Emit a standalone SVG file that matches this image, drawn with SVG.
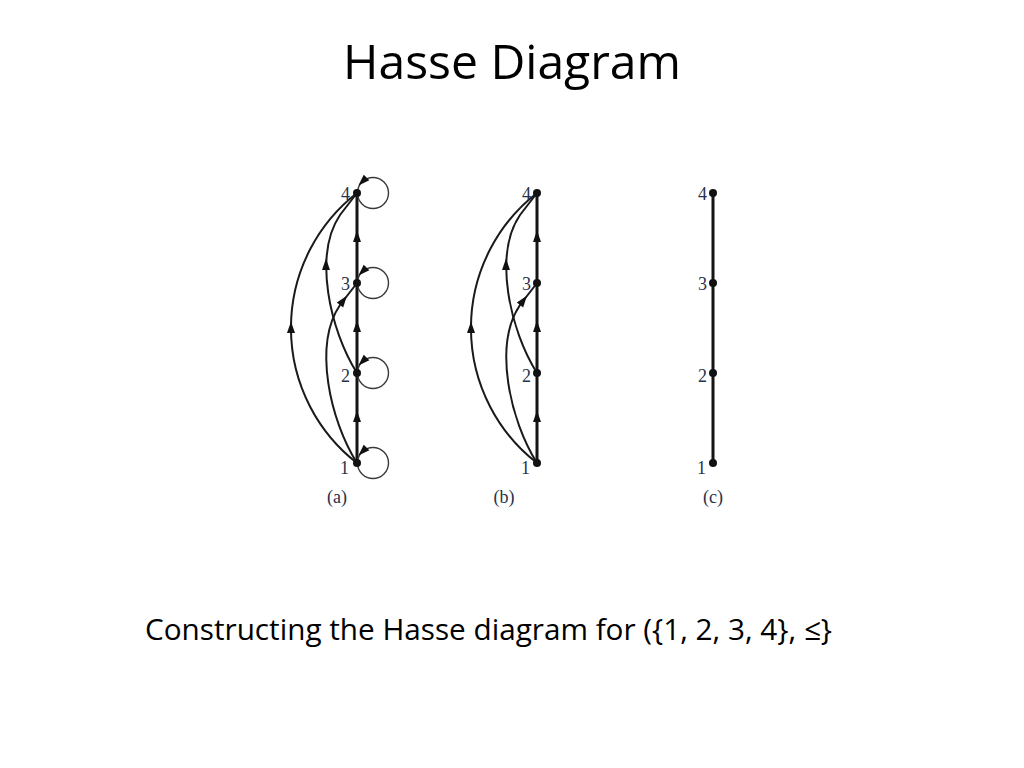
<svg xmlns="http://www.w3.org/2000/svg" xmlns:xlink="http://www.w3.org/1999/xlink" width="1024" height="768" viewBox="0 0 1024 768">
<style>
.title{font-family:"Open Sans","Liberation Sans",sans-serif;font-size:48px;fill:#000;}
.cap{font-family:"Open Sans","Liberation Sans",sans-serif;font-size:30px;fill:#000;}
.lbl{font-family:"Liberation Serif","DejaVu Serif",serif;font-size:18px;fill:#28324a;text-anchor:end;}
.sub{font-family:"Liberation Serif","DejaVu Serif",serif;font-size:18px;fill:#28324a;text-anchor:middle;}
.vert{stroke:#151515;stroke-width:3;fill:none;}
.curve{stroke:#1a1a1a;stroke-width:2;fill:none;}
.loop{stroke:#3a3a3a;stroke-width:1.4;fill:none;}
.node{fill:#111;}
.arr{fill:#111;}
</style>
<defs>
<polygon id="arr" class="arr" points="0,-6.5 4,5 -4,5"/>
<g id="curves">
<path class="curve" d="M357,463 A171,171 0 0 1 357,193"/>
<path class="curve" d="M357,463 C330,420 313,345 340,305 L357,283"/>
<path class="curve" d="M357,373 C330,330 313,255 340,215 L357,193"/>
<use xlink:href="#arr" transform="translate(291,328)"/>
<use xlink:href="#arr" transform="translate(343,301) rotate(37)"/>
<use xlink:href="#arr" transform="translate(326,265)"/>
<line class="vert" x1="357" y1="463" x2="357" y2="193"/>
<use xlink:href="#arr" transform="translate(357,237)"/>
<use xlink:href="#arr" transform="translate(357,327)"/>
<use xlink:href="#arr" transform="translate(357,417)"/>
</g>
</defs>

<text class="title" x="343" y="79" textLength="338" lengthAdjust="spacingAndGlyphs">Hasse Diagram</text>

<g id="connectors">
<g id="edges-a">
<use xlink:href="#curves"/>
<circle class="loop" cx="373" cy="193" r="15.5"/>
<circle class="loop" cx="373" cy="283" r="15.5"/>
<circle class="loop" cx="373" cy="373" r="15.5"/>
<circle class="loop" cx="373" cy="463" r="15.5"/>
<use xlink:href="#arr" transform="translate(363,181) rotate(225)"/>
<use xlink:href="#arr" transform="translate(363,271) rotate(225)"/>
<use xlink:href="#arr" transform="translate(363,361) rotate(225)"/>
<use xlink:href="#arr" transform="translate(363,451) rotate(225)"/>
</g>
<g id="edges-b">
<use xlink:href="#curves" transform="translate(180,0)"/>
</g>
<g id="edges-c">
<line class="vert" x1="713" y1="463" x2="713" y2="193"/>
</g>
</g>

<g id="diagram-a">
<g id="a-n4"><circle class="node" cx="357" cy="193" r="4"/><text class="lbl" x="350" y="200">4</text></g>
<g id="a-n3"><circle class="node" cx="357" cy="283" r="4"/><text class="lbl" x="350" y="290">3</text></g>
<g id="a-n2"><circle class="node" cx="357" cy="373" r="4"/><text class="lbl" x="350" y="382">2</text></g>
<g id="a-n1"><circle class="node" cx="357" cy="463" r="4"/><text class="lbl" x="349" y="474">1</text></g>
<text class="sub" x="337" y="503">(a)</text>
</g>

<g id="diagram-b">
<g id="b-n4"><circle class="node" cx="537" cy="193" r="4"/><text class="lbl" x="531" y="200">4</text></g>
<g id="b-n3"><circle class="node" cx="537" cy="283" r="4"/><text class="lbl" x="531" y="290">3</text></g>
<g id="b-n2"><circle class="node" cx="537" cy="373" r="4"/><text class="lbl" x="531" y="382">2</text></g>
<g id="b-n1"><circle class="node" cx="537" cy="463" r="4"/><text class="lbl" x="530" y="474">1</text></g>
<text class="sub" x="504" y="503">(b)</text>
</g>

<g id="diagram-c">
<g id="c-n4"><circle class="node" cx="713" cy="193" r="4"/><text class="lbl" x="707" y="200">4</text></g>
<g id="c-n3"><circle class="node" cx="713" cy="283" r="4"/><text class="lbl" x="707" y="290">3</text></g>
<g id="c-n2"><circle class="node" cx="713" cy="373" r="4"/><text class="lbl" x="707" y="382">2</text></g>
<g id="c-n1"><circle class="node" cx="713" cy="463" r="4"/><text class="lbl" x="706" y="474">1</text></g>
<text class="sub" x="713" y="503">(c)</text>
</g>

<text class="cap" x="145" y="640" textLength="687" lengthAdjust="spacingAndGlyphs">Constructing the Hasse diagram for ({1, 2, 3, 4}, ≤}</text>
</svg>
